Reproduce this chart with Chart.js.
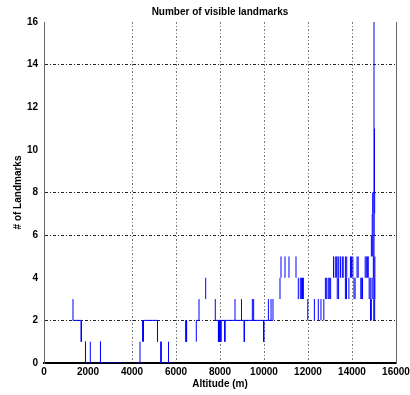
<!DOCTYPE html>
<html>
<head>
<meta charset="utf-8">
<script src="https://cdn.jsdelivr.net/npm/chart.js@4"></script>
<style>
  html, body { margin: 0; padding: 0; background: #fff; }
  #wrap { width: 410px; height: 395px; position: relative; }
</style>
</head>
<body>
<div id="wrap"><canvas id="landmarksChart"></canvas></div>
<script>
// axis ticks
const altitudeTicks = ["0", "2000", "4000", "6000", "8000", "10000", "12000", "14000", "16000"];
const landmarkTicks = ["0", "2", "4", "6", "8", "10", "12", "14", "16"];
// grid lines that show up in the picture
const gridAltitudes = [4000, 6000, 8000, 10000, 12000, 14000];
const gridLandmarks = [2, 6, 8, 14];

// stretches where the landmark count holds (altitude in m)
const holdStart = [1318, 1886, 2568, 4195, 4523, 5318, 6923, 7786];
const holdEnd   = [1695, 2105, 3523, 4364, 5159, 5659, 7045, 10409];
const holdCount = [2, 0, 0, 0, 2, 0, 2, 2];

// jumps of the landmark count
const jumpAltitude = [1318, 1695, 1886, 2105, 2568, 4364, 4480, 4523, 5159, 5318, 5659, 6455, 6480, 6923, 7045, 7350,
  7786, 7930, 7975, 8040, 8220, 8682, 8977, 9105, 9470, 9530, 9986, 10200, 10320, 10409,
  10727, 10773, 10955, 11136, 11455, 11560, 11650, 11700, 11750, 11790,
  11990, 12290, 12468, 12590, 12720, 12790, 12850, 12920, 12970, 13030,
  13160, 13240, 13290, 13330, 13360, 13390, 13400, 13480, 13560, 13600, 13700, 13700, 13750, 13760,
  13860, 13930, 13980, 14040, 14090, 14140, 14230, 14280, 14400, 14440, 14480,
  14600, 14650, 14700, 14740, 14780, 14830, 14840, 14880, 14880, 14910, 14920, 14920, 14940,
  14960, 14960, 14960, 14970, 14990, 14990, 15000, 15000, 15000, 15010, 15010, 15023, 15030, 15030, 15040, 15040];
const jumpFrom = [2, 2, 1, 0, 1, 0, 1, 1, 2, 1, 0, 2, 2, 1, 2, 3,
  2, 2, 2, 2, 2, 2, 2, 2, 2, 2, 2, 2, 2, 2,
  3, 4, 4, 4, 4, 3, 3, 3, 3, 3,
  2, 2, 2, 2, 2, 3, 3, 3, 3, 3,
  4, 4, 4, 3, 4, 3, 4, 4, 4, 4, 3, 4, 3, 4,
  3, 4, 4, 4, 3, 3, 4, 4, 3, 3, 3,
  4, 4, 4, 4, 3, 3, 2, 2, 5, 3, 5, 6, 7,
  3, 5, 6, 4, 2, 7, 4, 5, 8, 3, 6, 8, 2, 7, 3, 4];
const jumpTo = [3, 1, 0, 1, 0, 1, 2, 2, 1, 0, 1, 1, 1, 2, 3, 4,
  3, 1, 1, 1, 1, 3, 3, 1, 3, 3, 1, 3, 3, 3,
  4, 5, 5, 5, 5, 4, 4, 4, 4, 4,
  3, 3, 3, 3, 3, 4, 4, 4, 4, 4,
  5, 5, 5, 4, 5, 4, 5, 5, 5, 5, 4, 5, 4, 5,
  4, 5, 5, 5, 4, 4, 5, 5, 4, 4, 4,
  5, 5, 5, 5, 4, 4, 3, 3, 6, 4, 6, 7, 8,
  4, 6, 7, 5, 3, 8, 5, 6, 16, 4, 7, 11, 3, 8, 4, 5];

// one trace, pieces separated by gaps
const trace = [];
for (let i = 0; i < holdStart.length; i++) {
  trace.push({ x: holdStart[i], y: holdCount[i] }, { x: holdEnd[i], y: holdCount[i] }, { x: holdEnd[i], y: null });
}
for (let i = 0; i < jumpAltitude.length; i++) {
  trace.push({ x: jumpAltitude[i], y: jumpFrom[i] }, { x: jumpAltitude[i], y: jumpTo[i] }, { x: jumpAltitude[i], y: null });
}

const fnt = { family: "'Liberation Sans', Arial, sans-serif", size: 10, weight: "bold" };
Chart.defaults.color = "#000";

const ctx = document.getElementById("landmarksChart").getContext("2d");
new Chart(ctx, {
  type: "line",
  data: {
    datasets: [{
      label: "Landmarks",
      data: trace,
      borderColor: "#0000ff",
      borderWidth: 1,
      pointRadius: 0,
      tension: 0,
      spanGaps: false
    }]
  },
  options: {
    responsive: true,
    maintainAspectRatio: false,
    animation: false,
    layout: { padding: { left: 0, right: 14, top: 0, bottom: 0 } },
    plugins: {
      legend: { display: false },
      tooltip: { enabled: false },
      title: {
        display: true,
        text: "Number of visible landmarks",
        fullSize: false,
        font: fnt,
        color: "#000",
        padding: { top: 6, bottom: 4 }
      }
    },
    scales: {
      x: {
        type: "linear",
        min: 0,
        max: 16000,
        afterFit: s => { s.height = 32; s.paddingLeft = 0; s.paddingRight = 0; },
        ticks: {
          stepSize: 2000,
          font: fnt,
          color: "#000",
          padding: 3,
          maxRotation: 0,
          callback: (v, i) => altitudeTicks[i]
        },
        grid: {
          drawTicks: false,
          lineWidth: 1,
          color: c => gridAltitudes.includes(c.tick && c.tick.value) ? "#777" : "rgba(0,0,0,0)"
        },
        border: { display: true, color: "#000", width: 2, dash: [2, 2, 1, 2] },
        title: { display: true, text: "Altitude (m)", font: fnt, color: "#000", padding: { top: 0, bottom: 5 } }
      },
      y: {
        min: 0,
        max: 16,
        afterFit: s => { s.width = 44; },
        ticks: {
          stepSize: 2,
          font: fnt,
          color: "#000",
          padding: 6,
          callback: (v, i) => landmarkTicks[i]
        },
        grid: {
          drawTicks: false,
          lineWidth: 1,
          color: c => gridLandmarks.includes(c.tick && c.tick.value) ? "#222" : "rgba(0,0,0,0)"
        },
        border: { display: true, color: "#666", width: 1, dash: [3, 2, 1, 2] },
        title: { display: true, text: "# of Landmarks", font: fnt, color: "#000", padding: { top: 12, bottom: 0 } }
      },
      yRight: {
        position: "right",
        min: 0,
        max: 16,
        afterFit: s => { s.width = 0; },
        ticks: { display: false },
        grid: { display: false, drawTicks: false },
        border: { display: true, color: "#666", width: 1 }
      }
    }
  }
});
</script>
</body>
</html>
